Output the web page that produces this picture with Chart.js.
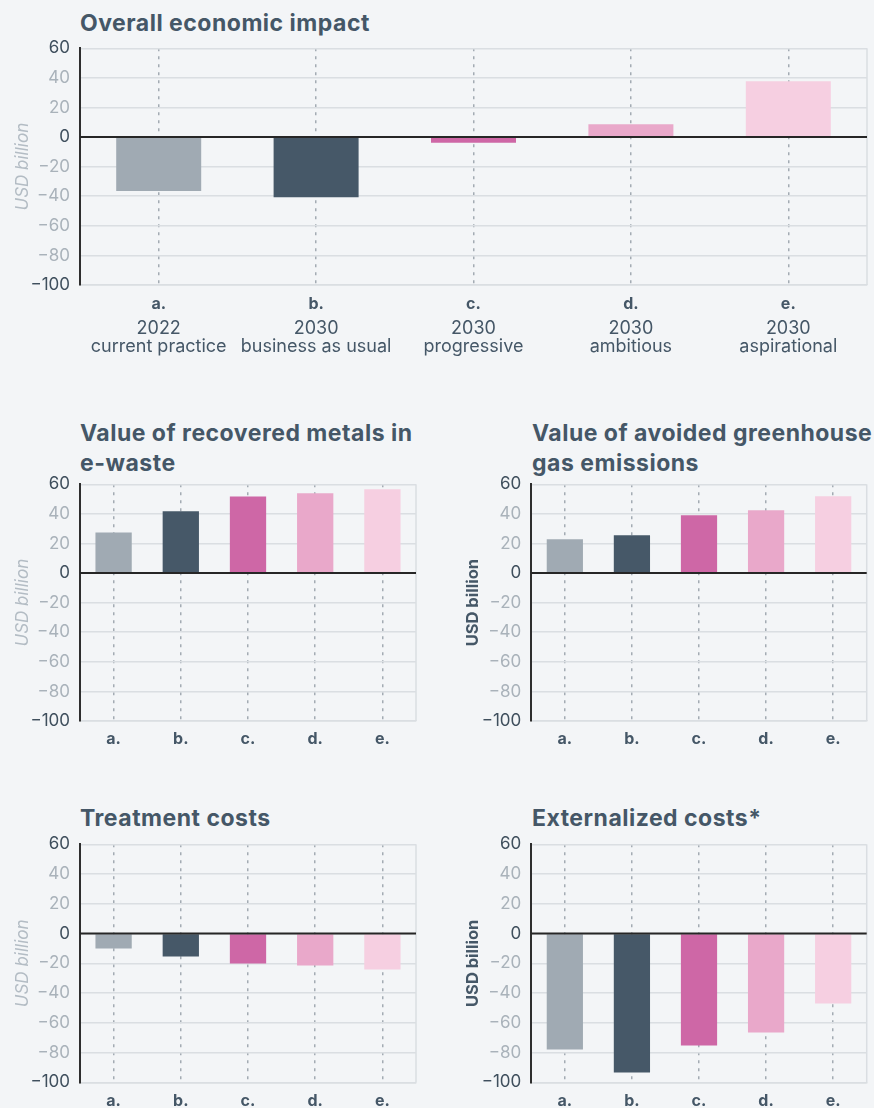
<!DOCTYPE html>
<html>
<head>
<meta charset="utf-8">
<script src="https://cdn.jsdelivr.net/npm/chart.js@4.4.1/dist/chart.umd.min.js"></script>
<style>
  html, body { margin: 0; padding: 0; background: #f3f5f7; }
  body { width: 874px; height: 1108px; position: relative; overflow: hidden; font-family: Inter, "DejaVu Sans", sans-serif; }
  .title { position: absolute; font-weight: 700; font-size: 23px; letter-spacing: 0.5px; line-height: 29.5px; color: #455767; white-space: nowrap; }
  .box { position: absolute; }
  canvas { display: block; }
</style>
</head>
<body>
<div class="title" style="left:80px; top:9px;">Overall economic impact</div>
<div class="title" style="left:80px; top:419px;">Value of recovered metals in<br>e-waste</div>
<div class="title" style="left:532px; top:419px;">Value of avoided greenhouse<br>gas emissions</div>
<div class="title" style="left:80px; top:804px;">Treatment costs</div>
<div class="title" style="left:532px; top:804px;">Externalized costs*</div>

<div class="box" style="left:0; top:0; width:874px; height:372px;"><canvas id="overall"></canvas></div>
<div class="box" style="left:0; top:460px; width:440px; height:300px;"><canvas id="metals"></canvas></div>
<div class="box" style="left:440px; top:460px; width:434px; height:300px;"><canvas id="ghg"></canvas></div>
<div class="box" style="left:0; top:820px; width:440px; height:288px;"><canvas id="treatment"></canvas></div>
<div class="box" style="left:440px; top:820px; width:434px; height:288px;"><canvas id="external"></canvas></div>

<script>
// Scenario labels
const letters   = ['a.', 'b.', 'c.', 'd.', 'e.'];
const years     = ['2022', '2030', '2030', '2030', '2030'];
const scenarios = ['current practice', 'business as usual', 'progressive', 'ambitious', 'aspirational'];

// Values, USD billion
const overallImpact     = [-36.5, -40.6, -3.9, 8.6, 37.7];
const recoveredMetals   = [27.5, 41.7, 51.8, 53.9, 56.6];
const avoidedEmissions  = [22.8, 25.5, 39.0, 42.4, 51.9];
const treatmentCosts    = [-10.1, -15.5, -20.2, -21.5, -24.2];
const externalizedCosts = [-78.0, -93.4, -75.3, -66.6, -47.0];

// Value axis ticks
const yTickValues = [60, 40, 20, 0, -20, -40, -60, -80, -100];
const strongTicks = [60, 0, -100];

const barColors = ['#a0aab3', '#465868', '#ce67a6', '#e9a8ca', '#f6cfe1'];

const FONT = 'Inter, "DejaVu Sans", sans-serif';
Chart.defaults.font.family = FONT;

const DARK = '#455767';
const TICK_DARK = '#3f4f5d';
const TICK_LIGHT = '#a9b2ba';
const GRID = '#dadee2';

// Right frame edge and the zero baseline drawn over the bars
const frameLines = {
  id: 'frameLines',
  afterDatasetsDraw(chart) {
    const { ctx, chartArea: a } = chart;
    const y = chart.scales.y;
    ctx.save();
    ctx.strokeStyle = GRID;
    ctx.lineWidth = 1.5;
    ctx.beginPath();
    ctx.moveTo(a.right, a.top);
    ctx.lineTo(a.right, a.bottom);
    ctx.stroke();
    const y0 = y.getPixelForValue(0);
    ctx.strokeStyle = '#262626';
    ctx.lineWidth = 2;
    ctx.beginPath();
    ctx.moveTo(a.left, y0);
    ctx.lineTo(a.right, y0);
    ctx.stroke();
    ctx.restore();
  }
};

function minus(v) {
  return v < 0 ? '\u2212' + Math.abs(v) : String(v);
}

function makeChart(id, values, o) {
  const scales = {
    x: {
      type: 'category',
      weight: 0,
      offset: true,
      // dotted vertical lines through the bar centres
      grid: { display: true, offset: false, drawTicks: false, color: '#a3abb3', lineWidth: 1.5 },
      border: { display: true, color: GRID, width: 1.5, dash: [3, 5] },
      ticks: { autoSkip: false, maxRotation: 0, padding: o.xPad, color: DARK, font: { size: 16, weight: 'bold' } },
      afterFit(s) { s.height = o.xHeight; }
    },
    y: {
      min: yTickValues[yTickValues.length - 1],
      max: yTickValues[0],
      afterBuildTicks(s) { s.ticks = yTickValues.map(v => ({ value: v })); },
      grid: { color: GRID, lineWidth: 1.5, drawTicks: false },
      border: { display: true, color: '#2e2e2e', width: 2 },
      ticks: {
        padding: 10,
        font: { size: 17 },
        color: ctx => strongTicks.includes(ctx.tick.value) ? TICK_DARK : TICK_LIGHT,
        callback: v => minus(v)
      },
      title: {
        display: true,
        text: 'USD billion',
        color: o.titleStrong ? DARK : '#b3bcc4',
        font: o.titleStrong ? { size: 16.5, weight: 'bold' } : { size: 17, style: 'italic' },
        padding: { top: o.titlePad, bottom: 0 }
      },
      afterFit(s) { s.width = o.yWidth; }
    }
  };
  if (o.extraLabels) {
    // year and scenario name under the letter labels
    scales.x2 = {
      type: 'category',
      weight: 1,
      position: 'bottom',
      labels: o.extraLabels,
      offset: true,
      grid: { display: false, drawTicks: false },
      border: { display: false },
      ticks: { autoSkip: false, maxRotation: 0, padding: 5, color: DARK, font: { size: 18, lineHeight: 0.97 } },
      afterFit(s) { s.height = 57; }
    };
  }
  return new Chart(document.getElementById(id), {
    type: 'bar',
    data: {
      labels: letters,
      datasets: [{
        data: values,
        backgroundColor: barColors,
        borderWidth: 0,
        barPercentage: 0.54,
        categoryPercentage: 1
      }]
    },
    options: {
      responsive: true,
      maintainAspectRatio: false,
      animation: false,
      layout: { padding: { top: o.padTop, right: o.padRight, left: 0, bottom: 0 } },
      plugins: { legend: { display: false }, tooltip: { enabled: false }, title: { display: false } },
      scales: scales
    },
    plugins: [frameLines]
  });
}

const yearScenario = years.map((y, i) => [y, scenarios[i]]);

makeChart('overall', overallImpact, {
  padTop: 48.3, padRight: 7, yWidth: 80, xHeight: 30, xPad: 10,
  titlePad: 12.8, titleStrong: false, extraLabels: yearScenario
});
makeChart('metals', recoveredMetals, {
  padTop: 24.3, padRight: 24, yWidth: 80, xHeight: 39, xPad: 9,
  titlePad: 12.8, titleStrong: false
});
makeChart('ghg', avoidedEmissions, {
  padTop: 24.3, padRight: 7.3, yWidth: 91.3, xHeight: 39, xPad: 9,
  titlePad: 22.8, titleStrong: true
});
makeChart('treatment', treatmentCosts, {
  padTop: 24.3, padRight: 24, yWidth: 80, xHeight: 25.7, xPad: 9,
  titlePad: 12.8, titleStrong: false
});
makeChart('external', externalizedCosts, {
  padTop: 24.3, padRight: 7.3, yWidth: 91.3, xHeight: 25.7, xPad: 9,
  titlePad: 22.8, titleStrong: true
});
</script>
</body>
</html>
